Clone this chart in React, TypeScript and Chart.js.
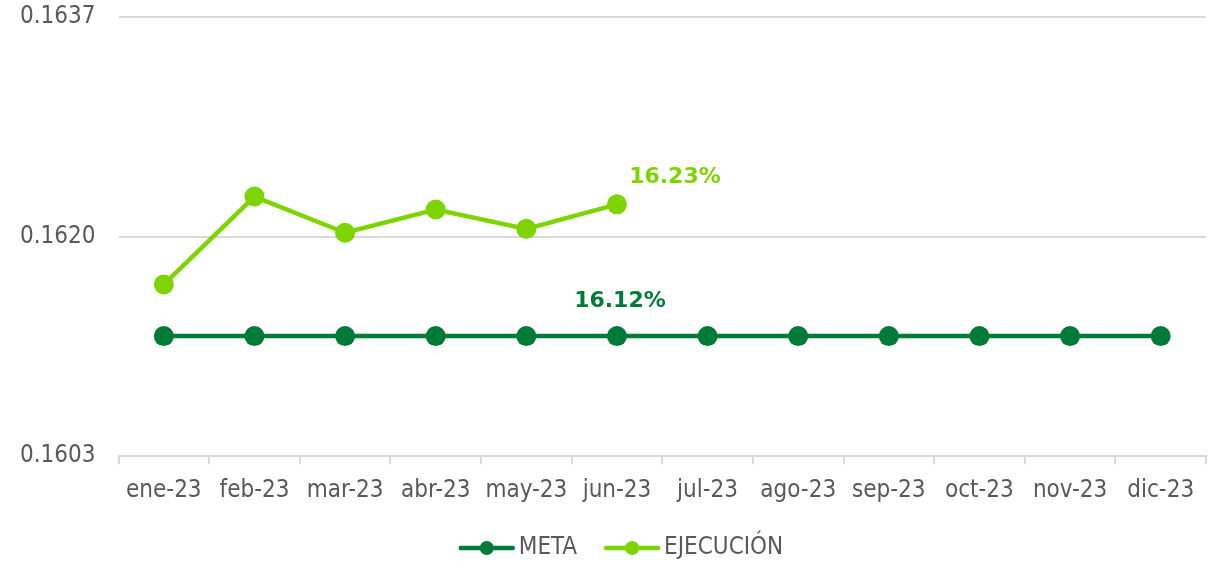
import React, { useEffect, useRef } from "react";
import { Chart, registerables } from "chart.js";

Chart.register(...registerables);

const categories = ["ene-23", "feb-23", "mar-23", "abr-23", "may-23", "jun-23", "jul-23", "ago-23", "sep-23", "oct-23", "nov-23", "dic-23"];
const metaValues = [0.16123, 0.16123, 0.16123, 0.16123, 0.16123, 0.16123, 0.16123, 0.16123, 0.16123, 0.16123, 0.16123, 0.16123];
const ejecucionValues: (number | null)[] = [0.16163, 0.16231, 0.16203, 0.16221, 0.16206, 0.16225, null, null, null, null, null, null];
const yTicks = [0.1603, 0.162, 0.1637];
const metaLabel = "16.12%";
const ejecucionLabel = "16.23%";

const DARK = "#007A37";
const LIGHT = "#7ED400";
const TEXT = "#595959";
const FONT = "'DejaVu Sans Condensed', 'DejaVu Sans', sans-serif";
const LABEL_FONT = "'DejaVu Sans', Verdana, sans-serif";

const labelPlugin = {
  id: "pointLabels",
  afterDatasetsDraw(chart: any) {
    const ctx = chart.ctx;
    const items = [
      { ds: 0, idx: 5, text: metaLabel, color: DARK, dx: 3, dy: -35 },
      { ds: 1, idx: 5, text: ejecucionLabel, color: LIGHT, dx: 58, dy: -27 },
    ];
    ctx.save();
    ctx.font = `bold 22px ${LABEL_FONT}`;
    ctx.textAlign = "center";
    ctx.textBaseline = "middle";
    for (const it of items) {
      const el = chart.getDatasetMeta(it.ds).data[it.idx];
      if (!el) continue;
      ctx.fillStyle = it.color;
      ctx.fillText(it.text, el.x + it.dx, el.y + it.dy);
    }
    ctx.restore();
  },
};

// Legend drawn below the chart: line-with-marker icon + label for each dataset
const legendPlugin = {
  id: "lineLegend",
  afterDraw(chart: any) {
    const ctx = chart.ctx;
    const iconW = 56;
    const gapText = 4;
    const gapItem = 27;
    const cy = 548;
    ctx.save();
    ctx.font = `24px ${FONT}`;
    ctx.textBaseline = "middle";
    ctx.textAlign = "left";
    const ds = chart.data.datasets;
    const widths = ds.map((d: any) => iconW + gapText + ctx.measureText(d.label).width);
    const total = widths.reduce((a: number, b: number) => a + b, 0) + gapItem * (ds.length - 1);
    let x = chart.width / 2 + 13 - total / 2;
    ds.forEach((d: any, i: number) => {
      const color = d.borderColor;
      ctx.strokeStyle = color;
      ctx.lineWidth = 4.5;
      ctx.lineCap = "round";
      ctx.beginPath();
      ctx.moveTo(x + 2, cy);
      ctx.lineTo(x + iconW - 2, cy);
      ctx.stroke();
      ctx.fillStyle = color;
      ctx.beginPath();
      ctx.arc(x + iconW / 2, cy, 7, 0, Math.PI * 2);
      ctx.fill();
      ctx.fillStyle = TEXT;
      ctx.fillText(d.label, x + iconW + gapText, cy);
      x += widths[i] + gapItem;
    });
    ctx.restore();
  },
};

export default function App() {
  const ref = useRef<HTMLCanvasElement | null>(null);

  useEffect(() => {
    document.body.style.margin = "0";
    const canvas = ref.current!;
    const chart = new Chart(canvas, {
      type: "line",
      data: {
        labels: categories,
        datasets: [
          {
            label: "META",
            data: metaValues,
            borderColor: DARK,
            backgroundColor: DARK,
            borderWidth: 4.5,
            pointRadius: 10,
            pointHoverRadius: 10,
            pointBackgroundColor: DARK,
            pointBorderWidth: 0,
            pointStyle: "circle",
            tension: 0,
          },
          {
            label: "EJECUCIÓN",
            data: ejecucionValues,
            borderColor: LIGHT,
            backgroundColor: LIGHT,
            borderWidth: 4.5,
            pointRadius: 10,
            pointHoverRadius: 10,
            pointBackgroundColor: LIGHT,
            pointBorderWidth: 0,
            pointStyle: "circle",
            tension: 0,
            spanGaps: false,
          },
        ],
      },
      options: {
        animation: false,
        responsive: false,
        maintainAspectRatio: false,
        layout: { padding: { top: 17, right: 10, left: 20, bottom: 44 } },
        plugins: {
          legend: { display: false },
          tooltip: { enabled: false },
        },
        scales: {
          x: {
            offset: true,
            grid: {
              offset: true,
              drawOnChartArea: false,
              drawTicks: true,
              tickLength: 8,
              color: "#d9d9d9",
              lineWidth: 2,
            },
            border: { display: true, color: "#d9d9d9", width: 2 },
            ticks: {
              color: TEXT,
              font: { family: FONT, size: 24 },
              padding: 12,
              maxRotation: 0,
              autoSkip: false,
            },
          },
          y: {
            min: 0.1603,
            max: 0.1637,
            afterBuildTicks: (axis: any) => {
              axis.ticks = yTicks.map((v) => ({ value: v }));
            },
            grid: {
              color: "#d9d9d9",
              lineWidth: 2,
              drawTicks: true,
              tickLength: 23,
              tickColor: "rgba(0,0,0,0)",
            },
            border: { display: false },
            ticks: {
              color: TEXT,
              font: { family: FONT, size: 24, lineHeight: 1 },
              padding: 0,
              callback: (v: any) => Number(v).toFixed(4),
            },
          },
        },
      },
      plugins: [labelPlugin, legendPlugin],
    });
    return () => chart.destroy();
  }, []);

  return <canvas ref={ref} width={1216} height={561} style={{ display: "block" }} />;
}
